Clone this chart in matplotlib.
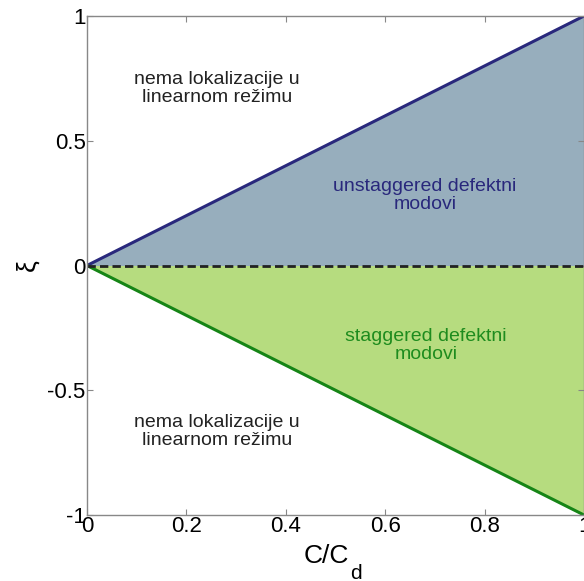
import numpy as np
import matplotlib
matplotlib.use("Agg")
import matplotlib.pyplot as plt

plt.rcParams['font.family'] = ['Liberation Sans', 'DejaVu Sans']

# region boundaries: xi = +/- C/Cd
c_ratio = [0.0, 1.0]
xi_upper = [0.0, 1.0]
xi_lower = [0.0, -1.0]
x_ticks = [0, 0.2, 0.4, 0.6, 0.8, 1]
y_ticks = [-1, -0.5, 0, 0.5, 1]

W, H = 584, 581
fig = plt.figure(figsize=(W / 100, H / 100), dpi=100)
ax = fig.add_axes([87 / W, 1 - 515 / H, 497 / W, 499 / H])

ax.fill_between(c_ratio, 0, xi_upper, color="#97aebd", linewidth=0)
ax.fill_between(c_ratio, 0, xi_lower, color="#b6dc7f", linewidth=0)
ax.plot(c_ratio, xi_upper, color="#29287c", lw=2.2)
ax.plot(c_ratio, xi_lower, color="#168516", lw=2.2)
ax.plot(c_ratio, [0, 0], color="#222222", lw=2, ls=(0, (3, 1.5)))

txt = dict(ha="center", va="center", fontsize=14, linespacing=1.08)
ax.text(0.262, 0.71, "nema lokalizacije u\nlinearnom režimu", color="#222222", **txt)
ax.text(0.262, -0.667, "nema lokalizacije u\nlinearnom režimu", color="#222222", **txt)
ax.text(0.68, 0.279, "unstaggered defektni\nmodovi", color="#29287c", **txt)
ax.text(0.682, -0.319, "staggered defektni\nmodovi", color="#1e8c1e", **txt)

ax.set_xlim(0, 1)
ax.set_ylim(-1, 1)
ax.set_xticks(x_ticks)
ax.set_xticklabels([f"{t:g}" for t in x_ticks])
ax.set_yticks(y_ticks)
ax.set_yticklabels([f"{t:g}" for t in y_ticks])
ax.tick_params(direction="in", length=4, color="#888888", labelsize=16,
               top=True, right=True, pad=1)
for s in ax.spines.values():
    s.set_color("#888888")
    s.set_linewidth(1)

# axis labels placed by hand (MATLAB-like low subscript)
fig.text(304 / W, 1 - 563 / H, "C/C", fontsize=19, ha="left", va="baseline")
fig.text(350 / W, 1 - 579 / H, "d", fontsize=15, ha="left", va="baseline")
fig.text(27 / W, 1 - 265 / H, "ξ", fontsize=19, rotation=90, ha="center", va="center")

fig.savefig("out.png", dpi=100)
